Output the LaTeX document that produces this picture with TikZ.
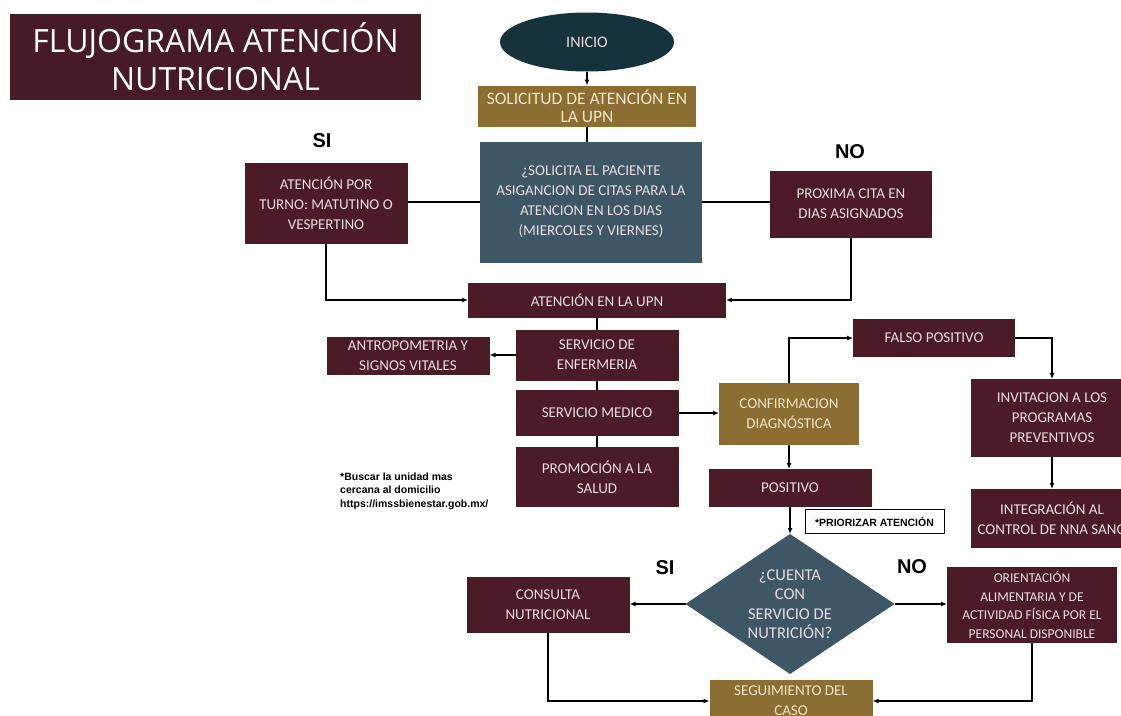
\documentclass[tikz,border=0pt]{standalone}
\usepackage{fontspec}
\setmainfont{Carlito}
\newfontfamily\titlefont{Open Sans}
\newfontfamily\arialfont{Liberation Sans}
\usetikzlibrary{
  arrows,arrows.meta,shapes.geometric,positioning,calc
}
\definecolor{vino}{HTML}{4B1C28}
\definecolor{ocre}{HTML}{8C6D32}
\definecolor{pizarra}{HTML}{3E5767}
\definecolor{petroleo}{HTML}{16323D}
\definecolor{rosado}{HTML}{EADCE0}
\definecolor{crema}{HTML}{F1E6CC}
\tikzset{
  caja/.style={fill=vino,text=rosado,align=center,inner sep=1pt,outer sep=0pt,
    font=\fontsize{15}{20}\selectfont},
  dorada/.style={caja,fill=ocre,text=crema},
  azul/.style={caja,fill=pizarra},
  flecha/.style={line width=1.3pt,-{Latex[length=6pt,width=5pt]}},
  linea/.style={line width=1.3pt},
  sino/.style={font=\arialfont\bfseries\fontsize{20}{24}\selectfont},
  tam/.style 2 args={minimum width=#1,minimum height=#2}
}

\begin{document}
\begin{tikzpicture}[x=1pt,y=-1pt]
    \fill[white] (0,0) rectangle (1121,715);
    \useasboundingbox (0,0) rectangle (1121,715);

    \node[caja,tam={411}{86},fill=vino!95!black,text=white,font=\titlefont\fontsize{32}{38}\selectfont]
      (titulo) at (215.5,57) {FLUJOGRAMA ATENCIÓN\\NUTRICIONAL};

    \node[caja,ellipse,fill=petroleo,tam={174}{59},font=\fontsize{16}{20}\selectfont] (inicio) at (587,42) {INICIO};
    \node[dorada,tam={218}{41},font=\fontsize{17.5}{18}\selectfont] (solicitud) at (587,106)
      {SOLICITUD DE ATENCIÓN EN\\LA UPN};
    \node[azul,tam={222}{121}] (pregunta) at (591,202)
      {¿SOLICITA EL PACIENTE\\ASIGANCION DE CITAS PARA LA\\ATENCION EN LOS DIAS\\(MIERCOLES Y VIERNES)};
    \node[caja,tam={163}{81}] (turno) at (326,203) {ATENCIÓN POR\\TURNO: MATUTINO O\\VESPERTINO};
    \node[caja,tam={162}{67}] (proxima) at (851,204) {PROXIMA CITA EN\\DIAS ASIGNADOS};
    \node[sino] (si1) at (322,141) {SI};
    \node[sino] (no1) at (850,152) {NO};

    \node[caja,tam={258}{35}] (upn) at (597,300) {ATENCIÓN EN LA UPN};
    \node[caja,tam={163}{51}] (enfermeria) at (597,355) {SERVICIO DE\\ENFERMERIA};
    \node[caja,tam={163}{38}] (antropo) at (408,356) {ANTROPOMETRIA Y\\SIGNOS VITALES};
    \node[caja,tam={163}{46}] (medico) at (597,413) {SERVICIO MEDICO};
    \node[caja,tam={163}{60}] (promocion) at (597,477) {PROMOCIÓN A LA\\SALUD};
    \node[anchor=west,align=left,inner sep=0pt,font=\arialfont\bfseries\fontsize{10.5}{13.5}\selectfont]
      (nota) at (340,491) {*Buscar la unidad mas\\cercana al domicilio\\https://imssbienestar.gob.mx/};

    \node[dorada,tam={140}{62}] (confirmacion) at (789,414) {CONFIRMACION\\DIAGNÓSTICA};
    \node[caja,tam={162}{38}] (falso) at (934,338) {FALSO POSITIVO};
    \node[caja,tam={162}{78}] (invitacion) at (1052,418) {INVITACION A LOS\\PROGRAMAS\\PREVENTIVOS};
    \node[caja,tam={162}{59}] (integracion) at (1052,518.5) {INTEGRACIÓN AL\\CONTROL DE NNA SANO};
    \node[caja,tam={163}{38}] (positivo) at (790,488) {POSITIVO};
    \node[draw=black,line width=1pt,fill=white,tam={139}{24},inner sep=1pt,
      font=\arialfont\bfseries\fontsize{10.5}{12}\selectfont] (priorizar) at (874.5,521.5) {*PRIORIZAR ATENCIÓN};

    \node[diamond,fill=pizarra,tam={209}{140},inner sep=0pt,outer sep=0pt,
      label={[caja,fill=none,font=\fontsize{16.5}{19.5}\selectfont]center:{¿CUENTA\\CON\\SERVICIO DE\\NUTRICIÓN?}}]
      (diamante) at (790,604) {};
    \node[caja,tam={163}{56}] (consulta) at (548,605) {CONSULTA\\NUTRICIONAL};
    \node[caja,tam={170}{76},font=\fontsize{13.5}{18.5}\selectfont] (orientacion) at (1032,605)
      {ORIENTACIÓN\\ALIMENTARIA Y DE\\ACTIVIDAD FÍSICA POR EL\\PERSONAL DISPONIBLE};
    \node[dorada,tam={163}{42}] (seguimiento) at (791,701) {SEGUIMIENTO DEL\\CASO};
    \node[sino] (si2) at (665,568) {SI};
    \node[sino] (no2) at (912,567) {NO};

    \draw[flecha] (inicio.south) -- (solicitud.north);
    \draw[linea] (solicitud.south) -- (solicitud.south |- pregunta.north);
    \draw[linea] (pregunta.west) -- (pregunta.west -| turno.east);
    \draw[linea] (pregunta.east) -- (pregunta.east -| proxima.west);
    \draw[flecha] (turno.south) |- (upn.west);
    \draw[flecha] (proxima.south) |- (upn.east);
    \draw[linea] (upn.south) -- (enfermeria.north);
    \draw[flecha] (enfermeria.west) -- (enfermeria.west -| antropo.east);
    \draw[linea] (enfermeria.south) -- (medico.north);
    \draw[linea] (medico.south) -- (promocion.north);
    \draw[flecha] (medico.east) -- (medico.east -| confirmacion.west);
    \draw[flecha] (confirmacion.north) |- (falso.west);
    \draw[flecha] (falso.east) -| (invitacion.north);
    \draw[flecha] (invitacion.south) -- (integracion.north);
    \draw[flecha] (confirmacion.south) -- (confirmacion.south |- positivo.north);
    \draw[flecha] (positivo.south) -- (diamante.north);
    \draw[flecha] (diamante.west) -- (diamante.west -| consulta.east);
    \draw[flecha] (diamante.east) -- (diamante.east -| orientacion.west);
    \draw[flecha] (consulta.south) |- (seguimiento.west);
    \draw[flecha] (orientacion.south) |- (seguimiento.east);
  \end{tikzpicture}
\end{document}
